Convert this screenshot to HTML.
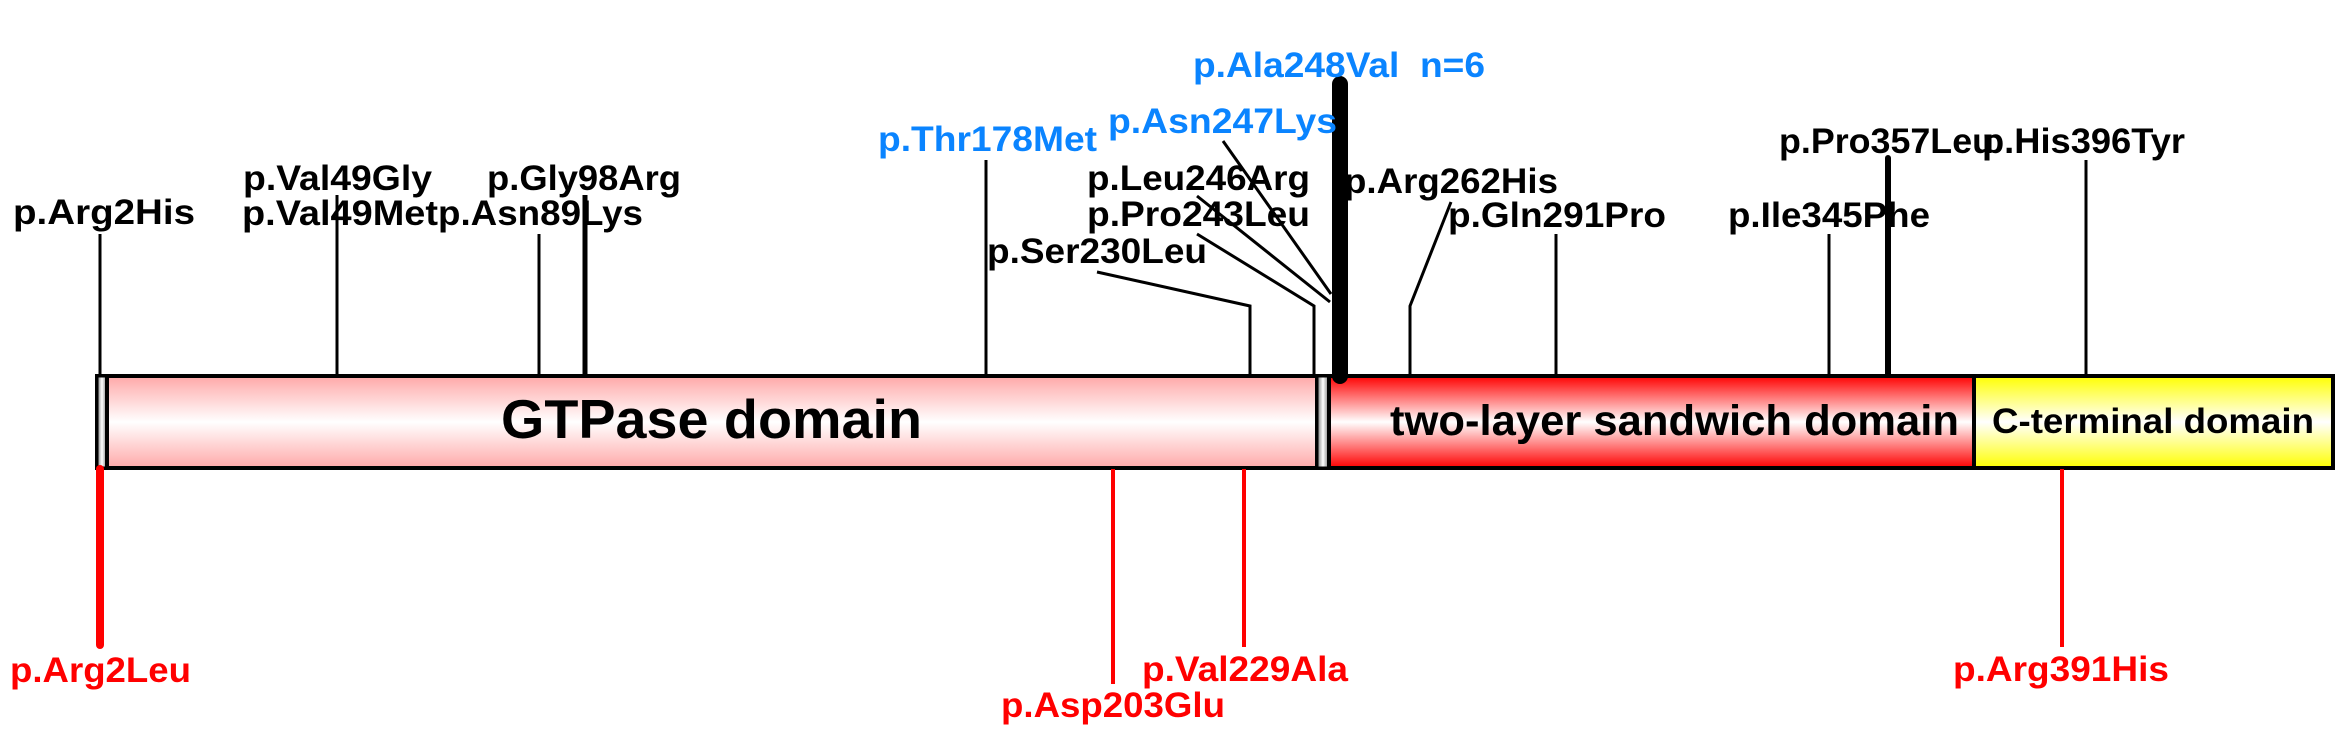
<!DOCTYPE html>
<html><head><meta charset="utf-8"><style>
html,body{margin:0;padding:0;background:#fff;}
svg{display:block;}
text{font-family:"Liberation Sans",Arial,sans-serif;font-weight:bold;}
</style></head><body>
<svg width="2348" height="738" viewBox="0 0 2348 738" xmlns="http://www.w3.org/2000/svg">
<defs>
<linearGradient id="pk" x1="0" y1="0" x2="0" y2="1"><stop offset="0" stop-color="#ffa8a8"/><stop offset="0.5" stop-color="#ffffff"/><stop offset="1" stop-color="#ffa8a8"/></linearGradient>
<linearGradient id="rd" x1="0" y1="0" x2="0" y2="1"><stop offset="0" stop-color="#ff0000"/><stop offset="0.5" stop-color="#ffffff"/><stop offset="1" stop-color="#ff0000"/></linearGradient>
<linearGradient id="yl" x1="0" y1="0" x2="0" y2="1"><stop offset="0" stop-color="#ffff00"/><stop offset="0.5" stop-color="#ffffff"/><stop offset="1" stop-color="#ffff00"/></linearGradient>
<linearGradient id="gr" x1="0" y1="0" x2="1" y2="0"><stop offset="0" stop-color="#777"/><stop offset="0.5" stop-color="#fff"/><stop offset="1" stop-color="#777"/></linearGradient>
</defs>

<g stroke="#000" stroke-width="3" fill="none">
<line x1="100" y1="234" x2="100" y2="376"/>
<line x1="337" y1="195" x2="337" y2="376"/>
<line x1="539" y1="234" x2="539" y2="376"/>
<line x1="986" y1="160" x2="986" y2="376"/>
<polyline points="1097,272 1250,306 1250,376"/>
<polyline points="1197,234 1314,306 1314,376"/>
<line x1="1197" y1="196" x2="1330" y2="302"/>
<line x1="1223" y1="141" x2="1331" y2="294"/>
<polyline points="1451,202 1410,306 1410,376"/>
<line x1="1556" y1="234" x2="1556" y2="376"/>
<line x1="1829" y1="234" x2="1829" y2="376"/>
<line x1="2086" y1="160" x2="2086" y2="376"/>
</g>
<line x1="585" y1="195" x2="585" y2="378" stroke="#000" stroke-width="5"/>
<line x1="1888" y1="158" x2="1888" y2="378" stroke="#000" stroke-width="6" stroke-linecap="round"/>

<rect x="97" y="376" width="2236" height="92" fill="#fff" stroke="#000" stroke-width="4"/>
<rect x="97" y="376" width="10" height="92" fill="url(#gr)" stroke="#000" stroke-width="3"/>
<rect x="107" y="376" width="1210" height="92" fill="url(#pk)" stroke="#000" stroke-width="4"/>
<rect x="1317" y="376" width="12" height="92" fill="url(#gr)" stroke="#000" stroke-width="3"/>
<rect x="1329" y="376" width="645" height="92" fill="url(#rd)" stroke="#000" stroke-width="4"/>
<rect x="1974" y="376" width="359" height="92" fill="url(#yl)" stroke="#000" stroke-width="4"/>

<line x1="1340" y1="84" x2="1340" y2="376" stroke="#000" stroke-width="16" stroke-linecap="round"/>

<text x="501" y="438" font-size="55" textLength="421" lengthAdjust="spacingAndGlyphs">GTPase domain</text>
<text x="1390" y="435" font-size="43" textLength="569" lengthAdjust="spacingAndGlyphs">two-layer sandwich domain</text>
<text x="1992" y="433" font-size="35" textLength="322" lengthAdjust="spacingAndGlyphs">C-terminal domain</text>

<line x1="100" y1="469" x2="100" y2="645" stroke="#f00" stroke-width="8" stroke-linecap="round"/>
<line x1="1113" y1="469" x2="1113" y2="684" stroke="#f00" stroke-width="4"/>
<line x1="1244" y1="469" x2="1244" y2="647" stroke="#f00" stroke-width="4"/>
<line x1="2062" y1="469" x2="2062" y2="647" stroke="#f00" stroke-width="4"/>

<g font-size="35" fill="#f00">
<text x="10" y="682" textLength="181" lengthAdjust="spacingAndGlyphs">p.Arg2Leu</text>
<text x="1001" y="717" textLength="224" lengthAdjust="spacingAndGlyphs">p.Asp203Glu</text>
<text x="1142" y="681" textLength="206" lengthAdjust="spacingAndGlyphs">p.Val229Ala</text>
<text x="1953" y="681" textLength="216" lengthAdjust="spacingAndGlyphs">p.Arg391His</text>
</g>

<g font-size="35" fill="#000">
<text x="13" y="224" textLength="182" lengthAdjust="spacingAndGlyphs">p.Arg2His</text>
<text x="243" y="190" textLength="189" lengthAdjust="spacingAndGlyphs">p.Val49Gly</text>
<text x="242" y="225" textLength="196" lengthAdjust="spacingAndGlyphs">p.Val49Met</text>
<text x="487" y="190" textLength="194" lengthAdjust="spacingAndGlyphs">p.Gly98Arg</text>
<text x="438" y="225" textLength="205" lengthAdjust="spacingAndGlyphs">p.Asn89Lys</text>
<text x="987" y="263" textLength="220" lengthAdjust="spacingAndGlyphs">p.Ser230Leu</text>
<text x="1087" y="190" textLength="223" lengthAdjust="spacingAndGlyphs">p.Leu246Arg</text>
<text x="1087" y="226" textLength="223" lengthAdjust="spacingAndGlyphs">p.Pro243Leu</text>
<text x="1344" y="193" textLength="214" lengthAdjust="spacingAndGlyphs">p.Arg262His</text>
<text x="1448" y="227" textLength="218" lengthAdjust="spacingAndGlyphs">p.Gln291Pro</text>
<text x="1728" y="227" textLength="202" lengthAdjust="spacingAndGlyphs">p.Ile345Phe</text>
<text x="1779" y="153" textLength="215" lengthAdjust="spacingAndGlyphs">p.Pro357Leu</text>
<text x="1982" y="153" textLength="203" lengthAdjust="spacingAndGlyphs">p.His396Tyr</text>
</g>

<g font-size="35" fill="#0a84ff">
<text x="878" y="151" textLength="219" lengthAdjust="spacingAndGlyphs">p.Thr178Met</text>
<text x="1108" y="133" textLength="229" lengthAdjust="spacingAndGlyphs">p.Asn247Lys</text>
<text x="1193" y="77" textLength="292" lengthAdjust="spacingAndGlyphs" xml:space="preserve">p.Ala248Val  n=6</text>
</g>
</svg>
</body></html>
